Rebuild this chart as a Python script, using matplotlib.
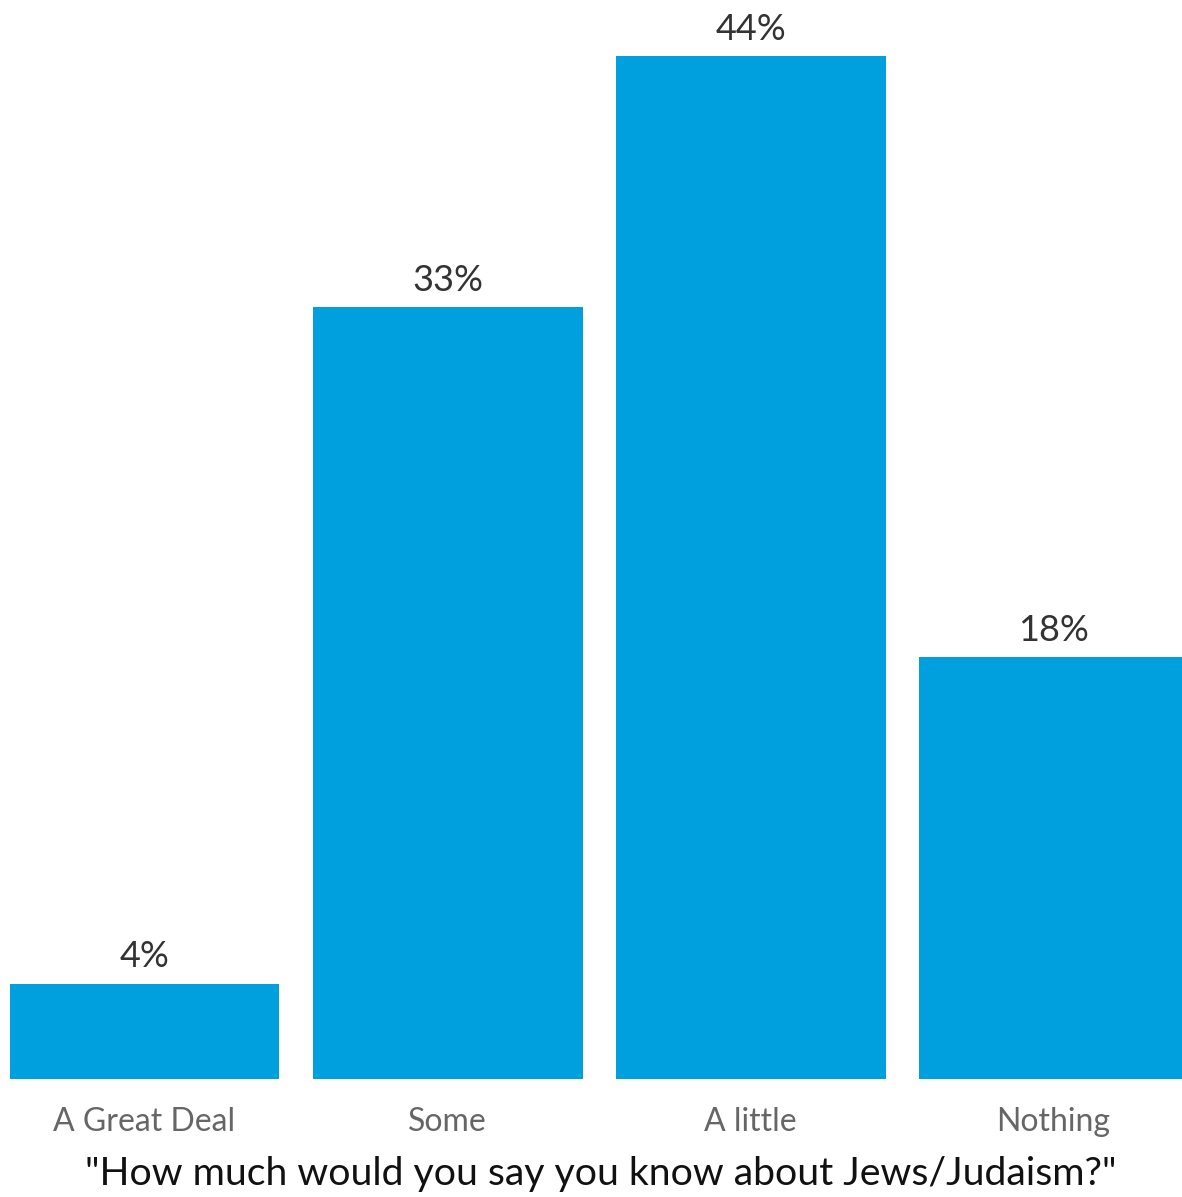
import matplotlib.pyplot as plt

plt.rcParams['font.family'] = ['Lato', 'DejaVu Sans']

categories = ['A Great Deal', 'Some', 'A little', 'Nothing']
# bar heights (labels are rounded)
values = [4.1, 33.2, 44, 18.15]
value_labels = ['4%', '33%', '44%', '18%']
x_title = '"How much would you say you know about Jews/Judaism?"'

bar_color = '#00a0df'

fig = plt.figure(figsize=(11.82, 11.97), dpi=100)
ax = fig.add_axes([0, 0.0986, 1, 0.9014])

pos = list(range(len(categories)))
ax.bar(pos, values, width=0.891, color=bar_color)

for p, v, lab in zip(pos, values, value_labels):
    ax.text(p, v + 0.45, lab, ha='center', va='bottom', fontsize=26, color='#333333')

ax.set_xlim(-0.4769, 3.424)
ax.set_ylim(0, 46.41)
ax.set_xticks(pos)
ax.set_xticklabels(categories, fontsize=23, color='#666666')
ax.tick_params(axis='x', length=0, pad=20)
ax.set_yticks([])
ax.set_xlabel(x_title, fontsize=28.3, color='#111111', labelpad=14)
ax.xaxis.label.set_x(0.508)
for s in ax.spines.values():
    s.set_visible(False)

fig.savefig('out.png', dpi=100)
